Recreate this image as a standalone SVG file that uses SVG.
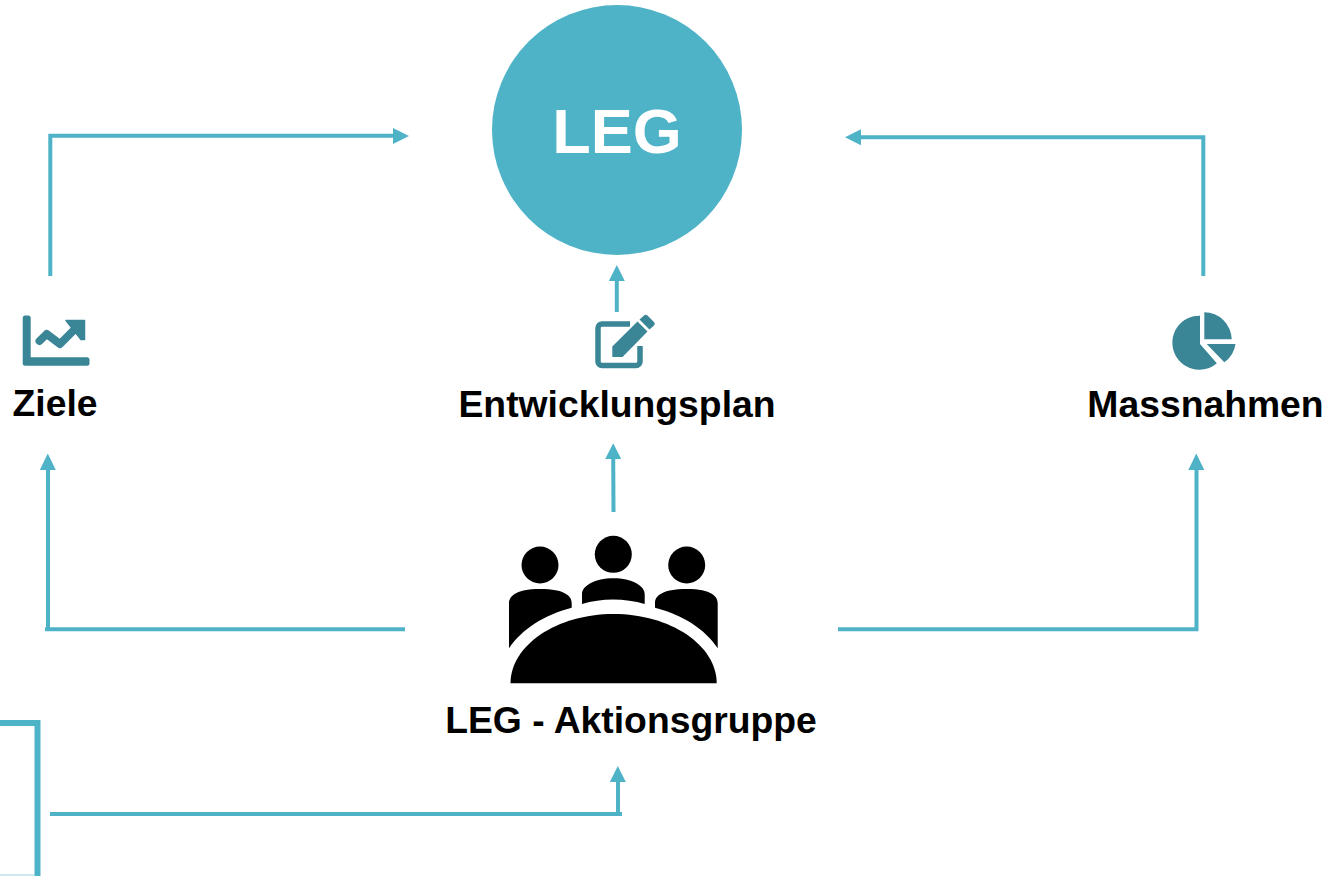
<svg xmlns="http://www.w3.org/2000/svg" width="1328" height="876" viewBox="0 0 1328 876">
<style>
.c{fill:none;stroke:#4FB3C8;stroke-width:4}
.h{fill:#4FB3C8}
.i{fill:#3A8596}
.t{font-family:"Liberation Sans",Arial,sans-serif;font-weight:bold;font-size:37.300px;fill:#000;text-anchor:middle}
</style>
<rect width="1328" height="876" fill="#fff"/>
<g id="connectors">
<path class="c" d="M50.300 276V135.700M48.300 135.700H396"/><path class="h" d="M409 136L393 128V144Z"/>
<path class="c" d="M1203.300 276V137.300M1205.300 137.300H858"/><path class="h" d="M845 137.300L861 129.300V145.300Z"/>
<path class="c" d="M616.800 312L616.800 278"/><path class="h" d="M616.800 265L608.800 281H624.800Z"/>
<path class="c" d="M613.500 512L613.200 456"/><path class="h" d="M613.200 443.300L605.200 459H621.200Z"/>
<path class="c" d="M405 629.300H45M48 631.300V468"/><path class="h" d="M47.800 453.500L39.800 470H55.800Z"/>
<path class="c" d="M838 629.300H1198.500M1196.500 631.300V468"/><path class="h" d="M1196.300 453.500L1188.300 470H1204.300Z"/>
<path class="c" d="M50 814H622M618 814V779"/><path class="h" d="M617.800 766L609.800 782H625.800Z"/>
<path d="M0 723H37.500V876" fill="none" stroke="#4FB3C8" stroke-width="6"/>
<path d="M0 875H35" fill="none" stroke="#9FD3DF" stroke-width="1"/>
</g>
<g id="leg">
<circle cx="617" cy="130" r="125" fill="#4FB3C8"/>
<text x="617" y="153" font-family="'Liberation Sans',Arial,sans-serif" font-weight="bold" font-size="63" fill="#fff" text-anchor="middle">LEG</text>
</g>
<g id="ziele">
<path class="i" d="M22.700 318a2.500 2.500 0 0 1 2.500-2.500h3a2.500 2.500 0 0 1 2.500 2.500V357.300H87a2.500 2.500 0 0 1 2.500 2.500v3.500a2.500 2.500 0 0 1-2.500 2.500H25.200a2.500 2.500 0 0 1-2.500-2.500Z"/>
<path d="M39.500 341L46.700 334L60 344L77 327" fill="none" stroke="#3A8596" stroke-width="8" stroke-linecap="round" stroke-linejoin="round"/>
<path class="i" d="M66 320.500H84.500V339.500H81Z" stroke="#3A8596" stroke-width="1.500" stroke-linejoin="round"/>
<text class="t" x="55" y="416">Ziele</text>
</g>
<g id="entwicklungsplan">
<path d="M630 324H602a4 4 0 0 0-4 4V361.500a4 4 0 0 0 4 4H636a4 4 0 0 0 4-4V346" fill="none" stroke="#3A8596" stroke-width="5.500"/>
<path class="i" d="M612.300 357V346.500L637.500 321.500L647.500 331.500L622.500 357Z"/>
<path class="i" d="M639.500 319.500L644 315.500a2.500 2.500 0 0 1 3.500 0L654 322a2.500 2.500 0 0 1 0 3.500L649.500 329.500Z"/>
<text class="t" x="617" y="416.500">Entwicklungsplan</text>
</g>
<g id="massnahmen">
<path class="i" d="M1200 315.700V344L1216.800 363.300A27 27 0 1 1 1200 315.700Z"/>
<path class="i" d="M1204.300 312.300A27.500 27.500 0 0 1 1231.700 339.300H1204.300Z"/>
<path class="i" d="M1206.700 344H1235.500A27 27 0 0 1 1224.300 362.300Z"/>
<text class="t" x="1205.500" y="416.500">Massnahmen</text>
</g>
<g id="aktionsgruppe">
<circle cx="540" cy="565" r="18.500"/>
<circle cx="613.300" cy="554.300" r="18.500"/>
<circle cx="686.700" cy="565" r="18.500"/>
<path d="M509 648.300V603C509 597 515 589 540 589C565 589 571.700 596 571.700 603V607.700C544 615 522 629 509 648.300Z"/>
<path d="M582 604V594C582 586 595 578.300 613.300 578.300C632 578.300 644.700 586 644.700 594V604C625 598 601 598 582 604Z"/>
<path d="M717.700 648.300V603C717.700 597 712 589 686.700 589C662 589 655 596 655 603V607.700C683 615 705 629 717.700 648.300Z"/>
<path d="M510.500 683.300C510.600 645.200 556.700 614 613.600 614C670.500 614 716.700 645.200 716.700 683.300Z"/>
<text class="t" x="631" y="733">LEG - Aktionsgruppe</text>
</g>
</svg>
